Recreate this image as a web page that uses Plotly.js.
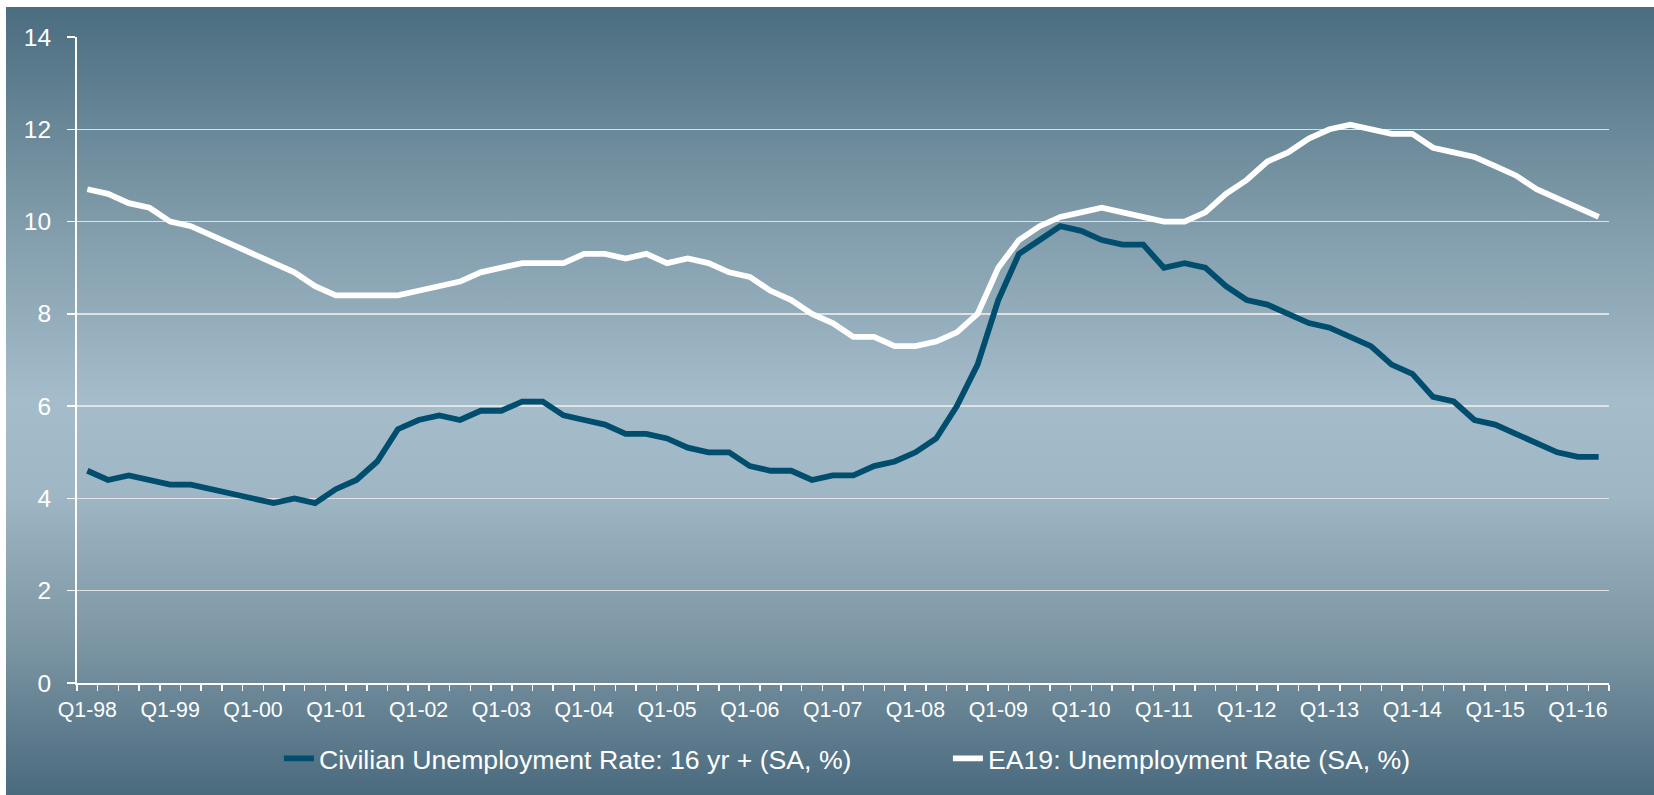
<!DOCTYPE html>
<html>
<head>
<meta charset="utf-8">
<script src="https://cdn.plot.ly/plotly-3.0.1.min.js"></script>
<style>
html,body{margin:0;padding:0;background:#ffffff;width:1654px;height:795px;overflow:hidden}
#bg{position:absolute;left:6px;top:7px;width:1648px;height:788px;
  background:linear-gradient(to bottom,#4a6d80 0%,#7e9aa8 26%,#a5bccb 50%,#9fb6c4 62%,#7d97a5 80%,#4a6a7e 100%)}
#chart{position:absolute;left:0;top:0;width:1654px;height:795px}
</style>
</head>
<body>
<div id="bg"></div>
<div id="chart"></div>
<script>
// Quarter categories (Q1-98 ... Q2-16)
var quarters = [
 'Q1-98','Q2-98','Q3-98','Q4-98','Q1-99','Q2-99','Q3-99','Q4-99',
 'Q1-00','Q2-00','Q3-00','Q4-00','Q1-01','Q2-01','Q3-01','Q4-01',
 'Q1-02','Q2-02','Q3-02','Q4-02','Q1-03','Q2-03','Q3-03','Q4-03',
 'Q1-04','Q2-04','Q3-04','Q4-04','Q1-05','Q2-05','Q3-05','Q4-05',
 'Q1-06','Q2-06','Q3-06','Q4-06','Q1-07','Q2-07','Q3-07','Q4-07',
 'Q1-08','Q2-08','Q3-08','Q4-08','Q1-09','Q2-09','Q3-09','Q4-09',
 'Q1-10','Q2-10','Q3-10','Q4-10','Q1-11','Q2-11','Q3-11','Q4-11',
 'Q1-12','Q2-12','Q3-12','Q4-12','Q1-13','Q2-13','Q3-13','Q4-13',
 'Q1-14','Q2-14','Q3-14','Q4-14','Q1-15','Q2-15','Q3-15','Q4-15',
 'Q1-16','Q2-16'
];

// Civilian Unemployment Rate: 16 yr + (SA, %)
var usRate = [
 4.6,4.4,4.5,4.4, 4.3,4.3,4.2,4.1, 4.0,3.9,4.0,3.9, 4.2,4.4,4.8,5.5,
 5.7,5.8,5.7,5.9, 5.9,6.1,6.1,5.8, 5.7,5.6,5.4,5.4, 5.3,5.1,5.0,5.0,
 4.7,4.6,4.6,4.4, 4.5,4.5,4.7,4.8, 5.0,5.3,6.0,6.9, 8.3,9.3,9.6,9.9,
 9.8,9.6,9.5,9.5, 9.0,9.1,9.0,8.6, 8.3,8.2,8.0,7.8, 7.7,7.5,7.3,6.9,
 6.7,6.2,6.1,5.7, 5.6,5.4,5.2,5.0, 4.9,4.9
];

// EA19: Unemployment Rate (SA, %)
var ea19Rate = [
 10.7,10.6,10.4,10.3, 10.0,9.9,9.7,9.5, 9.3,9.1,8.9,8.6, 8.4,8.4,8.4,8.4,
 8.5,8.6,8.7,8.9, 9.0,9.1,9.1,9.1, 9.3,9.3,9.2,9.3, 9.1,9.2,9.1,8.9,
 8.8,8.5,8.3,8.0, 7.8,7.5,7.5,7.3, 7.3,7.4,7.6,8.0, 9.0,9.6,9.9,10.1,
 10.2,10.3,10.2,10.1, 10.0,10.0,10.2,10.6, 10.9,11.3,11.5,11.8, 12.0,12.1,12.0,11.9,
 11.9,11.6,11.5,11.4, 11.2,11.0,10.7,10.5, 10.3,10.1
];

var seriesNames = ['Civilian Unemployment Rate: 16 yr + (SA, %)', 'EA19: Unemployment Rate (SA, %)'];
var yTicks = [0,2,4,6,8,10,12,14];
var xTickText = quarters.map(function(q){ return q.indexOf('Q1') === 0 ? q : ''; });

var traces = [
 {x: quarters, y: usRate, type:'scatter', mode:'lines', name: seriesNames[0],
  line:{color:'#014d6e', width:5.8}},
 {x: quarters, y: ea19Rate, type:'scatter', mode:'lines', name: seriesNames[1],
  line:{color:'#ffffff', width:5.8}}
];

var layout = {
 width:1654, height:795,
 margin:{l:77, r:45, t:37, b:112, pad:0},
 paper_bgcolor:'rgba(0,0,0,0)', plot_bgcolor:'rgba(0,0,0,0)',
 font:{family:'"Liberation Sans", Arial, sans-serif', color:'#ffffff'},
 showlegend:true,
 xaxis:{type:'category', range:[-0.5, quarters.length-0.5], tickmode:'array',
  tickvals:quarters, ticktext:xTickText, tickson:'boundaries', ticks:'outside',
  ticklen:6, tickwidth:1.5, tickcolor:'#ffffff', showline:true, linecolor:'#ffffff',
  linewidth:2, showgrid:false, zeroline:false, tickangle:0, ticklabelstandoff:6,
  tickfont:{size:21.33, color:'#ffffff'}, automargin:false, fixedrange:true},
 yaxis:{range:[0,14], tickmode:'array', tickvals:yTicks, ticks:'outside', ticklen:8,
  tickwidth:1.5, tickcolor:'#ffffff', showline:true, linecolor:'#ffffff', linewidth:2,
  showgrid:true, gridcolor:'rgba(228,228,228,0.95)', gridwidth:1.3, zeroline:false,
  ticklabelstandoff:11,
  tickfont:{size:24.5, color:'#ffffff'}, automargin:false, fixedrange:true},
 legend:{orientation:'h', xref:'paper', x:0.1318, xanchor:'left', y:-0.117, yanchor:'middle',
  font:{size:26.67, color:'#ffffff'}, bgcolor:'rgba(0,0,0,0)', borderwidth:0,
  entrywidth:624, entrywidthmode:'pixels', itemwidth:30}
};

Plotly.newPlot('chart', traces, layout, {displayModeBar:false, staticPlot:true});
</script>
</body>
</html>
